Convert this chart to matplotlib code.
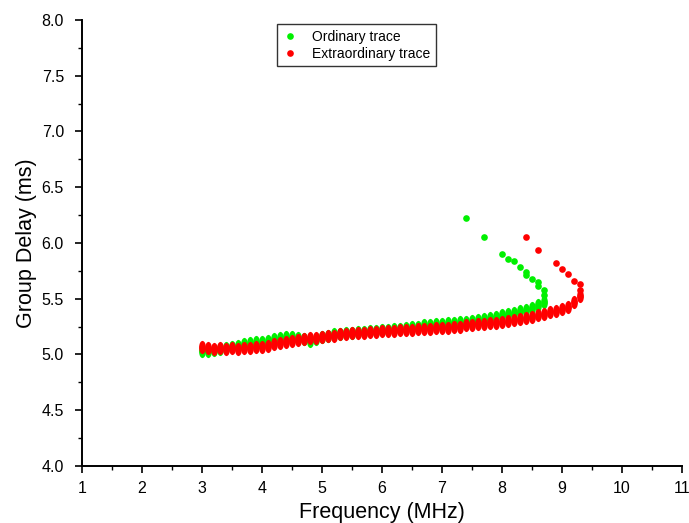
import matplotlib
matplotlib.use("Agg")
import matplotlib.pyplot as plt
import numpy as np
from matplotlib.path import Path
from matplotlib.ticker import MultipleLocator

plt.rcParams['font.family'] = ['Liberation Sans', 'DejaVu Sans']

# ordinary trace, lower branch (one column per 0.1 MHz)
o_freq = [3.0, 3.1, 3.2, 3.3, 3.4, 3.5, 3.6, 3.7, 3.8, 3.9,
          4.0, 4.1, 4.2, 4.3, 4.4, 4.5, 4.6, 4.7, 4.8, 4.9,
          5.0, 5.1, 5.2, 5.3, 5.4, 5.5, 5.6, 5.7, 5.8, 5.9,
          6.0, 6.1, 6.2, 6.3, 6.4, 6.5, 6.6, 6.7, 6.8, 6.9,
          7.0, 7.1, 7.2, 7.3, 7.4, 7.5, 7.6, 7.7, 7.8, 7.9,
          8.0, 8.1, 8.2, 8.3, 8.4, 8.5, 8.6, 8.7]
o_delay = [5.03, 5.03, 5.04, 5.05, 5.06, 5.07, 5.08, 5.09, 5.10, 5.11,
           5.11, 5.12, 5.14, 5.15, 5.16, 5.16, 5.15, 5.14, 5.12, 5.14,
           5.16, 5.17, 5.18, 5.18, 5.19, 5.19, 5.20, 5.20, 5.21, 5.21,
           5.22, 5.22, 5.23, 5.23, 5.24, 5.25, 5.25, 5.26, 5.26, 5.27,
           5.27, 5.28, 5.28, 5.29, 5.29, 5.30, 5.31, 5.32, 5.33, 5.34,
           5.35, 5.36, 5.37, 5.39, 5.40, 5.42, 5.44, 5.47]
# ordinary trace, upper branch
o_freq_up = [8.7, 8.7, 8.6, 8.6, 8.5, 8.4, 8.4, 8.3, 8.2, 8.1, 8.0, 7.7, 7.4]
o_delay_up = [5.53, 5.58, 5.61, 5.65, 5.68, 5.71, 5.74, 5.78, 5.84, 5.86, 5.90, 6.05, 6.22]

# extraordinary trace, lower branch
x_freq = [3.0, 3.1, 3.2, 3.3, 3.4, 3.5, 3.6, 3.7, 3.8, 3.9,
          4.0, 4.1, 4.2, 4.3, 4.4, 4.5, 4.6, 4.7, 4.8, 4.9,
          5.0, 5.1, 5.2, 5.3, 5.4, 5.5, 5.6, 5.7, 5.8, 5.9,
          6.0, 6.1, 6.2, 6.3, 6.4, 6.5, 6.6, 6.7, 6.8, 6.9,
          7.0, 7.1, 7.2, 7.3, 7.4, 7.5, 7.6, 7.7, 7.8, 7.9,
          8.0, 8.1, 8.2, 8.3, 8.4, 8.5, 8.6, 8.7, 8.8, 8.9,
          9.0, 9.1, 9.2, 9.3]
x_delay = [5.07, 5.06, 5.05, 5.06, 5.05, 5.06, 5.05, 5.06, 5.06, 5.07,
           5.07, 5.08, 5.09, 5.10, 5.11, 5.12, 5.13, 5.14, 5.15, 5.15,
           5.16, 5.17, 5.17, 5.18, 5.18, 5.19, 5.19, 5.19, 5.20, 5.20,
           5.21, 5.21, 5.21, 5.22, 5.22, 5.22, 5.23, 5.23, 5.23, 5.24,
           5.24, 5.24, 5.25, 5.25, 5.26, 5.26, 5.27, 5.27, 5.28, 5.28,
           5.29, 5.30, 5.31, 5.32, 5.33, 5.34, 5.35, 5.36, 5.38, 5.39,
           5.41, 5.43, 5.47, 5.52]
# extraordinary trace, upper branch
x_freq_up = [9.3, 9.3, 9.2, 9.1, 9.0, 8.9, 8.6, 8.4]
x_delay_up = [5.58, 5.63, 5.66, 5.72, 5.77, 5.82, 5.94, 6.05]

green = '#00f000'
red = '#ff0000'

# tall narrow marker for the dense columns
circ = Path.unit_circle()
tall = Path(circ.vertices * np.array([0.52, 1.0]), circ.codes)

fig = plt.figure(figsize=(6.89, 5.23), dpi=100)
ax = fig.add_axes([0.119, 0.109, 0.871, 0.853])

ax.plot(o_freq, o_delay, ls='none', marker=tall, ms=9.5, color=green, mec='none')
ax.plot(o_freq_up, o_delay_up, ls='none', marker='o', ms=4.8, color=green, mec='none',
        label='Ordinary trace')
ax.plot(x_freq, x_delay, ls='none', marker=tall, ms=9.5, color=red, mec='none')
ax.plot(x_freq_up, x_delay_up, ls='none', marker='o', ms=4.8, color=red, mec='none',
        label='Extraordinary trace')

ax.set_xlim(1, 11)
ax.set_ylim(4.0, 8.0)
ax.xaxis.set_major_locator(MultipleLocator(1))
ax.xaxis.set_minor_locator(MultipleLocator(0.5))
ax.yaxis.set_major_locator(MultipleLocator(0.5))
ax.yaxis.set_minor_locator(MultipleLocator(0.25))
ax.yaxis.set_major_formatter(matplotlib.ticker.FormatStrFormatter('%.1f'))

for s in ['top', 'right']:
    ax.spines[s].set_visible(False)
for s in ['left', 'bottom']:
    ax.spines[s].set_linewidth(1.4)
ax.tick_params(which='major', direction='out', length=5, width=1.2, labelsize=11.5)
ax.tick_params(axis='x', which='major', pad=6)
ax.tick_params(axis='y', which='major', pad=8)
ax.tick_params(which='minor', direction='out', length=3, width=1.0)

ax.set_xlabel('Frequency (MHz)', fontsize=15.5, labelpad=4)
ax.set_ylabel('Group Delay (ms)', fontsize=15.5, labelpad=3)

leg = ax.legend(loc='upper left', bbox_to_anchor=(0.325, 0.99), fontsize=10,
                frameon=True, fancybox=False, edgecolor='black', handletextpad=1.15,
                borderpad=0.4, labelspacing=0.2, borderaxespad=0, handlelength=1.0)
leg.get_frame().set_linewidth(1.0)

fig.savefig('out.png', dpi=100)
